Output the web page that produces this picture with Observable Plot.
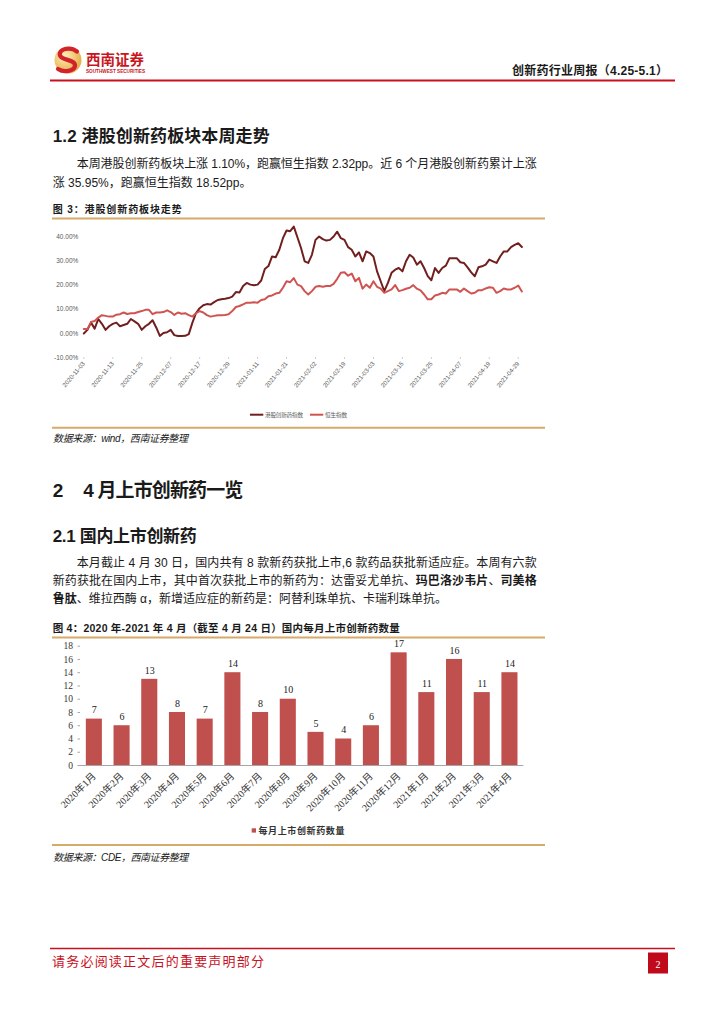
<!DOCTYPE html>
<html lang="zh">
<head>
<meta charset="utf-8">
<title>创新药行业周报</title>
<script src="https://cdn.jsdelivr.net/npm/d3@7"></script>
<script src="https://cdn.jsdelivr.net/npm/@observablehq/plot@0.6"></script>
<style>
html,body{margin:0;padding:0;background:#fff;}
#page{position:relative;width:724px;height:1024px;overflow:hidden;background:#fff;}
#overlay{position:absolute;left:0;top:0;}
#overlay text{font-family:'Liberation Sans','Noto Sans CJK SC',sans-serif;fill:#1a1a1a;}
.chart{position:absolute;}
.chart svg{overflow:visible;}
</style>
</head>
<body>
<div id="page">
<svg id="overlay" width="724" height="1024" viewBox="0 0 724 1024">
  <defs>
    <radialGradient id="logoGrad" cx="38%" cy="35%" r="75%">
      <stop offset="0%" stop-color="#fff0b8"/>
      <stop offset="100%" stop-color="#e2a23a"/>
    </radialGradient>
  </defs>
  <!-- header -->
  <circle cx="68" cy="60" r="13.5" fill="url(#logoGrad)"/>
  <path d="M77 51.5 C 70 46, 58 49, 60 55.5 C 62 61, 76 59, 75 66 C 74 71, 64 73, 58 69" fill="none" stroke="#d2232a" stroke-width="4.2" stroke-linecap="round"/>
  <text x="86" y="64.5" style="font-size:14.5px;font-weight:bold;fill:#c8161d;font-family:'Noto Sans CJK SC'">西南证券</text>
  <text x="86" y="72.5" textLength="59" lengthAdjust="spacingAndGlyphs" style="font-size:4.6px;font-weight:bold;fill:#c8161d">SOUTHWEST SECURITIES</text>
  <text x="512" y="75" textLength="156" style="font-size:12px;font-weight:bold">创新药行业周报（4.25-5.1）</text>
  <line x1="50" x2="675" y1="80.5" y2="80.5" stroke="#c8101e" stroke-width="2"/>

  <!-- section 1.2 -->
  <text x="52.7" y="141.5" textLength="217" style="font-size:17px;font-weight:bold">1.2 港股创新药板块本周走势</text>
  <text x="76.7" y="168.3" textLength="460" lengthAdjust="spacing" style="font-size:12px">本周港股创新药板块上涨 1.10%，跑赢恒生指数 2.32pp。近 6 个月港股创新药累计上涨</text>
  <text x="52.7" y="187.3" style="font-size:12px">涨 35.95%，跑赢恒生指数 18.52pp。</text>
  <text x="52.7" y="213.3" textLength="129" style="font-size:10px;font-weight:bold">图 3：港股创新药板块走势</text>
  <line x1="52" x2="545" y1="218.5" y2="218.5" stroke="#d6aa68" stroke-width="2"/>

  <!-- legend of figure 3 -->
  <line x1="250" x2="263.3" y1="414.7" y2="414.7" stroke="#701f1e" stroke-width="2"/>
  <text x="265" y="416.7" textLength="38" style="font-size:5.6px;fill:#595959">港股创新药指数</text>
  <line x1="310" x2="323.3" y1="414.7" y2="414.7" stroke="#cf5451" stroke-width="2"/>
  <text x="325" y="416.7" textLength="22" style="font-size:5.6px;fill:#595959">恒生指数</text>
  <line x1="52" x2="545" y1="427.7" y2="427.7" stroke="#d6aa68" stroke-width="2"/>
  <text x="53" y="441.5" textLength="135" style="font-size:10px;font-style:italic">数据来源：wind，西南证券整理</text>

  <!-- section 2 -->
  <text x="52.7" y="497" style="font-size:19px;font-weight:bold">2</text>
  <text x="83.3" y="497" textLength="160" style="font-size:19px;font-weight:bold">4 月上市创新药一览</text>
  <text x="52.7" y="541.7" textLength="144" style="font-size:17px;font-weight:bold">2.1 国内上市创新药</text>
  <text x="76.7" y="567.3" textLength="460" lengthAdjust="spacing" style="font-size:12px">本月截止 4 月 30 日，国内共有 8 款新药获批上市,6 款药品获批新适应症。本周有六款</text>
  <text x="52.7" y="585.3" textLength="484" lengthAdjust="spacing" style="font-size:12px">新药获批在国内上市，其中首次获批上市的新药为：达雷妥尤单抗、<tspan style="font-weight:bold">玛巴洛沙韦片</tspan>、<tspan style="font-weight:bold">司美格</tspan></text>
  <text x="52.7" y="603" style="font-size:12px"><tspan style="font-weight:bold">鲁肽</tspan>、维拉西酶 α，新增适应症的新药是：阿替利珠单抗、卡瑞利珠单抗。</text>
  <text x="52.7" y="631.7" textLength="347" style="font-size:10.5px;font-weight:bold">图 4：2020 年-2021 年 4 月（截至 4 月 24 日）国内每月上市创新药数量</text>
  <line x1="52" x2="545" y1="637.5" y2="637.5" stroke="#d6aa68" stroke-width="2"/>

  <!-- legend of figure 4 -->
  <rect x="251.7" y="828.3" width="4.3" height="4.3" fill="#c0504d"/>
  <text x="258.5" y="834" textLength="86" style="font-size:9px;font-weight:bold;fill:#333">每月上市创新药数量</text>
  <line x1="52" x2="545" y1="845" y2="845" stroke="#d6aa68" stroke-width="2"/>
  <text x="53.3" y="860.5" textLength="135" style="font-size:10px;font-style:italic">数据来源：CDE，西南证券整理</text>

  <!-- footer -->
  <line x1="50" x2="675" y1="948.5" y2="948.5" stroke="#c8101e" stroke-width="1.5"/>
  <text x="52" y="966" textLength="212" style="font-size:13px;fill:#c8101e">请务必阅读正文后的重要声明部分</text>
  <rect x="648" y="952.5" width="20" height="21" fill="#c00a1b"/>
  <text x="658" y="967.5" text-anchor="middle" style="font-size:10px;fill:#fff;font-family:'Liberation Serif',serif">2</text>
</svg>
<div id="lineChart" class="chart" style="left:52px;top:222px;"></div>
<div id="barChart" class="chart" style="left:52px;top:638px;"></div>
</div>
<script>
// ---- Figure 3: 港股创新药板块走势 (cumulative %, trading days 2020-11-03 .. 2021-04-30)
const dateTicks = ["2020-11-03","2020-11-13","2020-11-25","2020-12-07","2020-12-17","2020-12-29",
  "2021-01-11","2021-01-21","2021-02-02","2021-02-19","2021-03-03","2021-03-15","2021-03-25",
  "2021-04-07","2021-04-19","2021-04-29"];
const yTicksPct = [-10, 0, 10, 20, 30, 40];
const hkInnovDrug = [
  0, 1.5, 4.5, 2, 6, 4, 1.5, 3, 4, 4.5,
  3, 3.5, 4, 6, 5, 4, 1.5, 3, 4, 5.5,
  2.5, -1, 0.2, 0.5, 1.5, -0.7, -1.1, -1.1, -1, -0.3,
  4.5, 8.5, 10.5, 11.7, 12.2, 12, 13, 13.9, 14.2, 14.4,
  14.7, 15.3, 17.2, 17, 19.7, 21, 20.3, 20, 20.3, 22,
  26.8, 28, 32, 31.7, 34.8, 39.6, 42.8, 42.5, 44.4, 40,
  35.5, 30, 29.3, 32.7, 38.9, 40.3, 39.2, 38.6, 38.9, 40.3,
  42.3, 39.6, 38.9, 35.9, 34.8, 32, 33.7, 30, 34.1, 33.4,
  32, 25.8, 21.7, 17.6, 21, 25.2, 26.5, 27.2, 25.8, 30,
  32.7, 31.6, 28.6, 30, 27.2, 23.8, 22.1, 27.2, 25.2, 27.2,
  28.2, 31.3, 31.3, 31.3, 29.6, 29.3, 27.5, 25.4, 23.8, 27.5,
  27.9, 28.6, 30.7, 30, 29.3, 32, 34.1, 34.1, 35.9, 36.8,
  37.5, 35.95
];
const hangSeng = [
  1.8, 1.8, 4.8, 5.2, 6.6, 7.6, 7.3, 7, 7, 7.8,
  8, 8.7, 8.1, 8.4, 8.4, 8.9, 9.3, 9.8, 9.8, 8,
  8.7, 8.7, 8.9, 9.6, 8.9, 7.7, 8.7, 8.2, 8.4, 7.6,
  7, 8.4, 9.3, 8.7, 7.6, 7, 7.3, 7.6, 7.6, 7.7,
  8, 9.3, 11, 11.4, 12.1, 12.8, 12.8, 13, 12.8, 13.9,
  14.2, 15.5, 15.8, 16.6, 16.9, 19, 21.7, 21.3, 23, 20.3,
  19.7, 17.6, 16.2, 17.6, 19.4, 19.7, 19.4, 19.7, 19.7, 20.6,
  22.7, 25.2, 25.4, 24, 24.9, 21.7, 23.1, 18.6, 20.3, 19,
  21.7, 19.4, 18.6, 16.9, 17.6, 18.3, 20.1, 17.6, 18, 18.6,
  19, 20.1, 18.6, 17.9, 16.2, 14.2, 14.2, 15.8, 16.2, 16.9,
  16.6, 18.3, 18.3, 18.3, 17.3, 18.7, 17.6, 16.6, 16.9, 18,
  18, 18.7, 19.2, 19, 16.9, 17.6, 18.7, 18.3, 18.3, 19,
  19.9, 17.43
];

// ---- Figure 4: 国内每月上市创新药数量
const months = ["2020年1月","2020年2月","2020年3月","2020年4月","2020年5月","2020年6月",
  "2020年7月","2020年8月","2020年9月","2020年10月","2020年11月","2020年12月",
  "2021年1月","2021年2月","2021年3月","2021年4月"];
const monthlyCounts = [7, 6, 13, 8, 7, 14, 8, 10, 5, 4, 6, 17, 11, 16, 11, 14];
const countTicks = [0, 2, 4, 6, 8, 10, 12, 14, 16, 18];

// ---------- line chart ----------
const lineChart = Plot.plot({
  width: 493,
  height: 190,
  marginLeft: 31.3,
  marginRight: 20,
  marginTop: 2.7,
  marginBottom: 55,
  style: {background: "transparent", fontFamily: "'Liberation Sans',sans-serif", overflow: "visible"},
  x: {domain: [0, 122]},
  y: {domain: [-10, 45]},
  marks: [
    Plot.axisY({ticks: yTicksPct, tickFormat: d => d.toFixed(2) + "%", tickSize: 0, tickPadding: 5.5,
      fontSize: 6.5, fill: "#595959", stroke: "#cfcfcf", line: true, label: null}),
    Plot.axisX({ticks: d3.range(0, 121, 8), tickFormat: i => dateTicks[i / 8], tickRotate: -50,
      tickSize: 2, tickPadding: 3, fontSize: 6.2, fill: "#5a5a5a", stroke: "#cfcfcf", line: true, label: null}),
    Plot.line(hkInnovDrug, {x: (d, i) => i, y: d => d, stroke: "#701f1e", strokeWidth: 2}),
    Plot.line(hangSeng, {x: (d, i) => i, y: d => d, stroke: "#cf5451", strokeWidth: 2})
  ]
});
document.getElementById("lineChart").appendChild(lineChart);

// ---------- bar chart ----------
const barData = months.map((m, i) => ({month: m, count: monthlyCounts[i]}));
const barChart = Plot.plot({
  width: 493,
  height: 177,
  marginLeft: 28,
  marginRight: 21.7,
  marginTop: 7.7,
  marginBottom: 50,
  style: {background: "transparent", fontFamily: "'Liberation Serif','Noto Sans CJK SC',serif", overflow: "visible"},
  x: {domain: months, paddingInner: 0.42, paddingOuter: 0.21, round: false},
  y: {domain: [0, 18]},
  marks: [
    Plot.barY(barData, {x: "month", y: "count", fill: "#c0504d"}),
    Plot.ruleY([0], {stroke: "#a6a6a6"}),
    Plot.text(barData, {x: "month", y: "count", text: d => String(d.count), dy: -9,
      fontSize: 10, fill: "#222", fontFamily: "'Liberation Serif',serif"}),
    Plot.axisY({ticks: countTicks, tickSize: 2.5, tickPadding: 5, fontSize: 9.5, fill: "#333",
      stroke: "#a6a6a6", line: true, label: null, fontFamily: "'Liberation Serif',serif"}),
    Plot.axisX({tickRotate: -45, tickSize: 0, tickPadding: 9, fontSize: 10, fill: "#333",
      label: null, fontFamily: "'Liberation Serif','Noto Sans CJK SC',serif"})
  ]
});
document.getElementById("barChart").appendChild(barChart);
</script>
</body>
</html>
